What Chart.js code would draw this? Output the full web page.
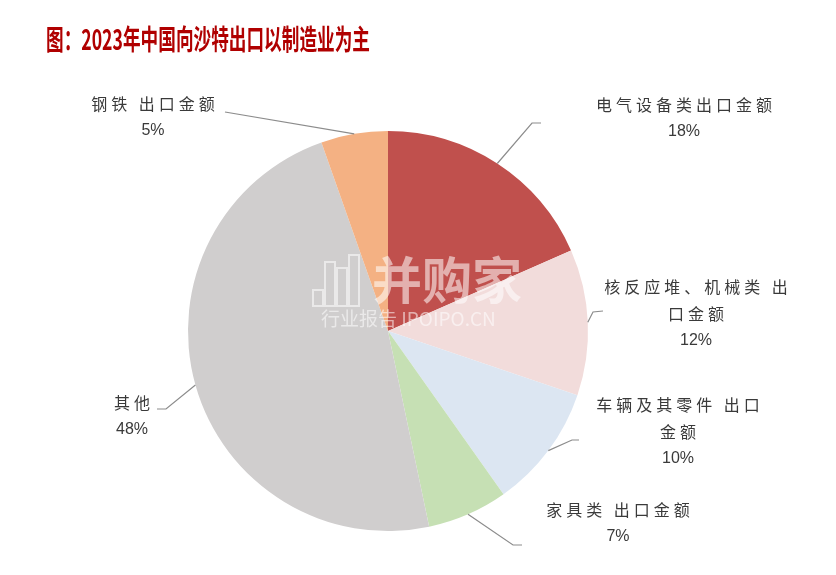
<!DOCTYPE html>
<html>
<head>
<meta charset="utf-8">
<script src="https://cdn.jsdelivr.net/npm/chart.js@4.4.0/dist/chart.umd.min.js"></script>
<style>
  html, body { margin: 0; padding: 0; background: #ffffff; }
  #wrap { position: relative; width: 836px; height: 575px; }
</style>
</head>
<body>
<div id="wrap"><canvas id="pie" width="836" height="575"></canvas></div>
<script>
// data (share of export value, %)
const categories = ['电气设备类出口金额', '核反应堆、机械类 出口金额', '车辆及其零件 出口金额', '家具类 出口金额', '其他', '钢铁 出口金额'];
const shares = [18.4, 11.8, 10.0, 6.5, 47.9, 5.4];
const pctLabels = ['18%', '12%', '10%', '7%', '48%', '5%'];
const sliceColors = ['#C0504D', '#F2DCDB', '#DCE6F2', '#C6E0B4', '#D0CECE', '#F4B183'];

const titleText = '图：2023年中国向沙特出口以制造业为主';

// label layout: text lines, text centre x, first line y, leader elbow + end
const labelLayout = [
  { lines: ['电气设备类出口金额', '18%'], x: 684, y: 105, elbow: [532, 123], end: [541, 123] },
  { lines: ['核反应堆、机械类 出', '口金额', '12%'], x: 696, y: 287, elbow: [593, 312], end: [603, 311] },
  { lines: ['车辆及其零件 出口', '金额', '10%'], x: 678, y: 405, elbow: [572, 440], end: [579, 440] },
  { lines: ['家具类 出口金额', '7%'], x: 618, y: 510, elbow: [513, 545], end: [522, 545] },
  { lines: ['其他', '48%'], x: 132, y: 403, elbow: [166, 409], end: [157, 409] },
  { lines: ['钢铁 出口金额', '5%'], x: 153, y: 104, elbow: [225, 112], end: [225, 112] }
];

const overlay = {
  id: 'overlay',
  afterDraw: (chart) => {
    const {ctx} = chart;
    const arcs = chart.getDatasetMeta(0).data;
    ctx.save();

    // leader lines
    ctx.strokeStyle = '#8c8c8c';
    ctx.lineWidth = 1.2;
    arcs.forEach((arc, i) => {
      const mid = (arc.startAngle + arc.endAngle) / 2;
      const px = arc.x + Math.cos(mid) * arc.outerRadius;
      const py = arc.y + Math.sin(mid) * arc.outerRadius;
      const L = labelLayout[i];
      ctx.beginPath();
      ctx.moveTo(px, py);
      ctx.lineTo(L.elbow[0], L.elbow[1]);
      ctx.lineTo(L.end[0], L.end[1]);
      ctx.stroke();
    });

    // label texts
    ctx.fillStyle = '#3a3a3a';
    ctx.textAlign = 'center';
    ctx.textBaseline = 'middle';
    labelLayout.forEach((L) => {
      L.lines.forEach((t, j) => {
        const isPct = /%$/.test(t);
        if (isPct) {
          ctx.letterSpacing = '0px';
          ctx.font = '16px "Liberation Sans", Arial, sans-serif';
        } else {
          ctx.letterSpacing = '4px';
          ctx.font = '16px "Noto Sans CJK SC", sans-serif';
        }
        ctx.fillText(t, L.x + (isPct ? 0 : 2), L.y + j * 27);
      });
    });
    ctx.letterSpacing = '0px';

    // watermark
    ctx.globalAlpha = 0.55;
    ctx.fillStyle = '#ffffff';
    ctx.font = 'bold 50px "Noto Sans CJK SC", sans-serif';
    ctx.textAlign = 'left';
    ctx.fillText('并购家', 372, 280);
    ctx.font = '19px "Noto Sans CJK SC", sans-serif';
    ctx.fillText('行业报告 IPOIPO.CN', 321, 319);
    // bar icon
    ctx.lineWidth = 2;
    ctx.strokeStyle = '#ffffff';
    [[313, 290, 10, 16], [325, 262, 10, 44], [337, 268, 10, 38], [349, 255, 10, 51]].forEach(b => {
      ctx.strokeRect(b[0], b[1], b[2], b[3]);
    });
    ctx.globalAlpha = 1;

    // title
    ctx.fillStyle = '#B00000';
    ctx.font = 'bold 28px "Noto Sans CJK SC", sans-serif';
    ctx.textAlign = 'left';
    ctx.textBaseline = 'alphabetic';
    const w = ctx.measureText(titleText).width;
    ctx.translate(46, 50);
    ctx.scale(324 / w, 1);
    ctx.fillText(titleText, 0, 0);
    ctx.restore();
  }
};

new Chart(document.getElementById('pie'), {
  type: 'pie',
  data: {
    labels: categories,
    datasets: [{
      data: shares,
      backgroundColor: sliceColors,
      borderWidth: 0
    }]
  },
  options: {
    responsive: false,
    animation: false,
    layout: { padding: { top: 131, bottom: 44, left: 188, right: 248 } },
    plugins: {
      legend: { display: false },
      tooltip: { enabled: false },
      title: { display: false }
    }
  },
  plugins: [overlay]
});
</script>
</body>
</html>
